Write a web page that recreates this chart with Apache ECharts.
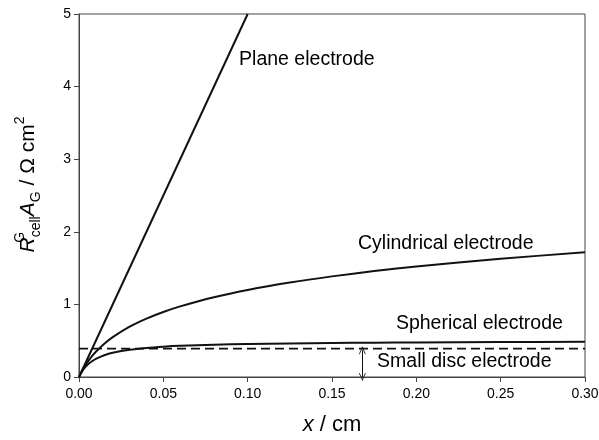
<!DOCTYPE html>
<html>
<head>
<meta charset="utf-8">
<script src="https://cdn.jsdelivr.net/npm/echarts@6/dist/echarts.min.js"></script>
<style>
  html, body { margin: 0; padding: 0; background: #fff; }
  #chart { width: 599px; height: 440px; }
</style>
</head>
<body>
<div id="chart"></div>
<script>
// Distance from the electrode, cm
const xValues = [0, 0.001, 0.0025, 0.005, 0.0075, 0.01, 0.015, 0.02, 0.03, 0.04, 0.05,
                 0.06, 0.08, 0.10, 0.125, 0.15, 0.175, 0.20, 0.25, 0.30];
// Specific cell resistance R·A (Ω cm²) for each electrode geometry
const cylindrical = [0, 0.048, 0.112, 0.203, 0.280, 0.347, 0.458, 0.549, 0.693, 0.805, 0.896,
                     0.973, 1.099, 1.199, 1.301, 1.386, 1.459, 1.522, 1.629, 1.717];
const spherical = [0, 0.045, 0.100, 0.167, 0.214, 0.250, 0.300, 0.333, 0.375, 0.400, 0.417,
                   0.429, 0.444, 0.455, 0.463, 0.469, 0.473, 0.476, 0.481, 0.484];
const planeX = [0, 0.10];
const planeY = [0, 5];
const discX = [0, 0.30];
const discY = [0.39, 0.39];
// Curve annotations: [x, y, text]
const annotations = [
  [0.0949, 4.37, 'Plane electrode'],
  [0.1654, 1.84, 'Cylindrical electrode'],
  [0.1879, 0.74, 'Spherical electrode'],
  [0.1767, 0.205, 'Small disc electrode']
];
// Double arrow marking the disc level
const arrowX = 0.168;
const arrowTop = 0.37;
const arrowBottom = 0;
const yTicks = [0, 1, 2, 3, 4, 5];

const zip = (xs, ys) => xs.map((x, i) => [x, ys[i]]);
const FONT = '"Liberation Sans", Arial, sans-serif';
const INK = '#000';
const chevron = 'path://M5,0 L10,12 L8.8,12 L5,3 L1.2,12 L0,12 Z';

const chart = echarts.init(document.getElementById('chart'), null, { renderer: 'canvas' });
chart.setOption({
  animation: false,
  backgroundColor: '#fff',
  grid: {
    left: 79, right: 14, top: 14, bottom: 63, outerBoundsMode: 'none',
    show: true, borderColor: '#444', borderWidth: 1
  },
  xAxis: {
    type: 'value', min: 0, max: 0.3, interval: 0.05,
    axisLine: { lineStyle: { color: '#444', width: 1 } },
    axisTick: { inside: false, length: 5, lineStyle: { color: '#444' } },
    splitLine: { show: false },
    axisLabel: { fontFamily: FONT, fontSize: 14, color: INK, margin: 10, formatter: v => v.toFixed(2) },
    name: '{it|x}{n| / cm}',
    nameLocation: 'middle', nameGap: 37,
    nameTextStyle: {
      fontFamily: FONT, fontSize: 22, color: INK,
      rich: { it: { fontFamily: FONT, fontSize: 22, fontStyle: 'italic', color: INK }, n: { fontFamily: FONT, fontSize: 22, color: INK } }
    }
  },
  yAxis: {
    type: 'value', min: yTicks[0], max: yTicks[yTicks.length - 1], interval: 1,
    axisLine: { show: true, lineStyle: { color: '#444', width: 1 } },
    axisTick: { show: true, inside: false, length: 5, lineStyle: { color: '#444' } },
    splitLine: { show: false },
    axisLabel: { fontFamily: FONT, fontSize: 14, color: INK, margin: 8 },
    name: '{it|R}{sup|G}{sub|cell}{it|A}{sub|G}{n| / Ω cm}{sup2|2}',
    nameLocation: 'middle', nameRotate: 90, nameGap: 36,
    nameTextStyle: {
      fontFamily: FONT, fontSize: 21, color: INK, lineHeight: 30, padding: [0, 0, 0, 22],
      rich: {
        it: { fontFamily: FONT, fontSize: 21, fontStyle: 'italic', color: INK, lineHeight: 30 },
        n: { fontFamily: FONT, fontSize: 21, color: INK, lineHeight: 30 },
        sup: { fontFamily: FONT, fontSize: 14, color: INK, verticalAlign: 'top', lineHeight: 14, width: 0 },
        sup2: { fontFamily: FONT, fontSize: 14, color: INK, verticalAlign: 'top', lineHeight: 14 },
        sub: { fontFamily: FONT, fontSize: 14, color: INK, verticalAlign: 'bottom', lineHeight: 14 }
      }
    }
  },
  series: [
    {
      name: 'Plane electrode', type: 'line', data: zip(planeX, planeY),
      showSymbol: false, clip: true,
      lineStyle: { color: '#111', width: 2 }
    },
    {
      name: 'Cylindrical electrode', type: 'line', data: zip(xValues, cylindrical),
      showSymbol: false, smooth: 0.3,
      lineStyle: { color: '#111', width: 2 }
    },
    {
      name: 'Spherical electrode', type: 'line', data: zip(xValues, spherical),
      showSymbol: false, smooth: 0.3,
      lineStyle: { color: '#111', width: 2 }
    },
    {
      name: 'Small disc electrode', type: 'line', data: zip(discX, discY),
      showSymbol: false,
      lineStyle: { color: '#111', width: 1.7, type: [9, 5] },
      markLine: {
        silent: true, symbol: [chevron, chevron], symbolSize: [7, 8],
        label: { show: false },
        lineStyle: { color: '#111', width: 1, type: 'solid' },
        data: [[{ coord: [arrowX, arrowTop] }, { coord: [arrowX, arrowBottom] }]]
      }
    },
    {
      name: 'labels', type: 'scatter', symbolSize: 0,
      itemStyle: { opacity: 1 },
      data: annotations.map(a => ({ value: [a[0], a[1]], text: a[2] })),
      label: {
        show: true, position: 'right', distance: 0, opacity: 1,
        fontFamily: FONT, fontSize: 19.5, color: INK,
        formatter: p => p.data.text
      }
    }
  ]
});
</script>
</body>
</html>
